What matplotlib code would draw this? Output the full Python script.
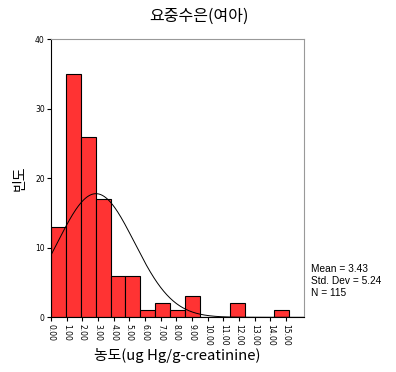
import numpy as np
import matplotlib
matplotlib.use("Agg")
import matplotlib.pyplot as plt

plt.rcParams['font.family'] = ['Noto Sans CJK KR', 'DejaVu Sans']

# histogram counts per bin
counts = [13, 35, 26, 17, 6, 6, 1, 2, 1, 3, 0, 0, 2, 0, 0, 1]
bin_width = 0.95
tick_values = list(range(0, 16))
tick_labels = ["%.2f" % v for v in tick_values]
y_ticks = [0, 10, 20, 30, 40]

# normal curve parameters (as drawn)
n_total = 115
curve_mu = 2.87
curve_sigma = 2.45

title = "요중수은(여아)"
xlabel = "농도(ug Hg/g-creatinine)"
ylabel = "빈도"
stats_text = "Mean = 3.43\nStd. Dev = 5.24\nN = 115"

fig = plt.figure(figsize=(3.96, 3.72), dpi=100)
ax = fig.add_axes([0.1288, 0.147, 0.639, 0.7474])

edges = np.arange(len(counts) + 1) * bin_width
ax.bar(edges[:-1], counts, width=bin_width, align='edge',
       color='#ff3333', edgecolor='black', linewidth=0.8)

xs = np.linspace(0, 16.2, 400)
ys = n_total * bin_width / (curve_sigma * np.sqrt(2 * np.pi)) * \
    np.exp(-(xs - curve_mu) ** 2 / (2 * curve_sigma ** 2))
ax.plot(xs, ys, color='black', linewidth=0.7)

ax.set_xlim(0, 16.15)
ax.set_ylim(0, 40)
ax.set_xticks(tick_values)
ax.set_xticklabels(tick_labels, rotation=-90, fontsize=5.5, family='DejaVu Sans')
ax.set_yticks(y_ticks)
ax.set_yticklabels([str(v) for v in y_ticks], fontsize=5.5, family='DejaVu Sans')
ax.tick_params(axis='both', direction='out', length=3, width=0.8, pad=1.5)

for side in ['top', 'right']:
    ax.spines[side].set_color('#999999')
    ax.spines[side].set_linewidth(0.8)
for side in ['left', 'bottom']:
    ax.spines[side].set_color('black')
    ax.spines[side].set_linewidth(0.8)

ax.set_xlabel(xlabel, fontsize=10.7, labelpad=2)
ax.set_ylabel(ylabel, fontsize=10, labelpad=6, fontweight='medium')
fig.suptitle(title, fontsize=11.5, x=0.503, y=0.98)

fig.text(0.785, 0.2, stats_text, fontsize=7.3, family='Liberation Sans',
         va='bottom', ha='left', linespacing=1.2)

fig.savefig("out.png", dpi=100)
